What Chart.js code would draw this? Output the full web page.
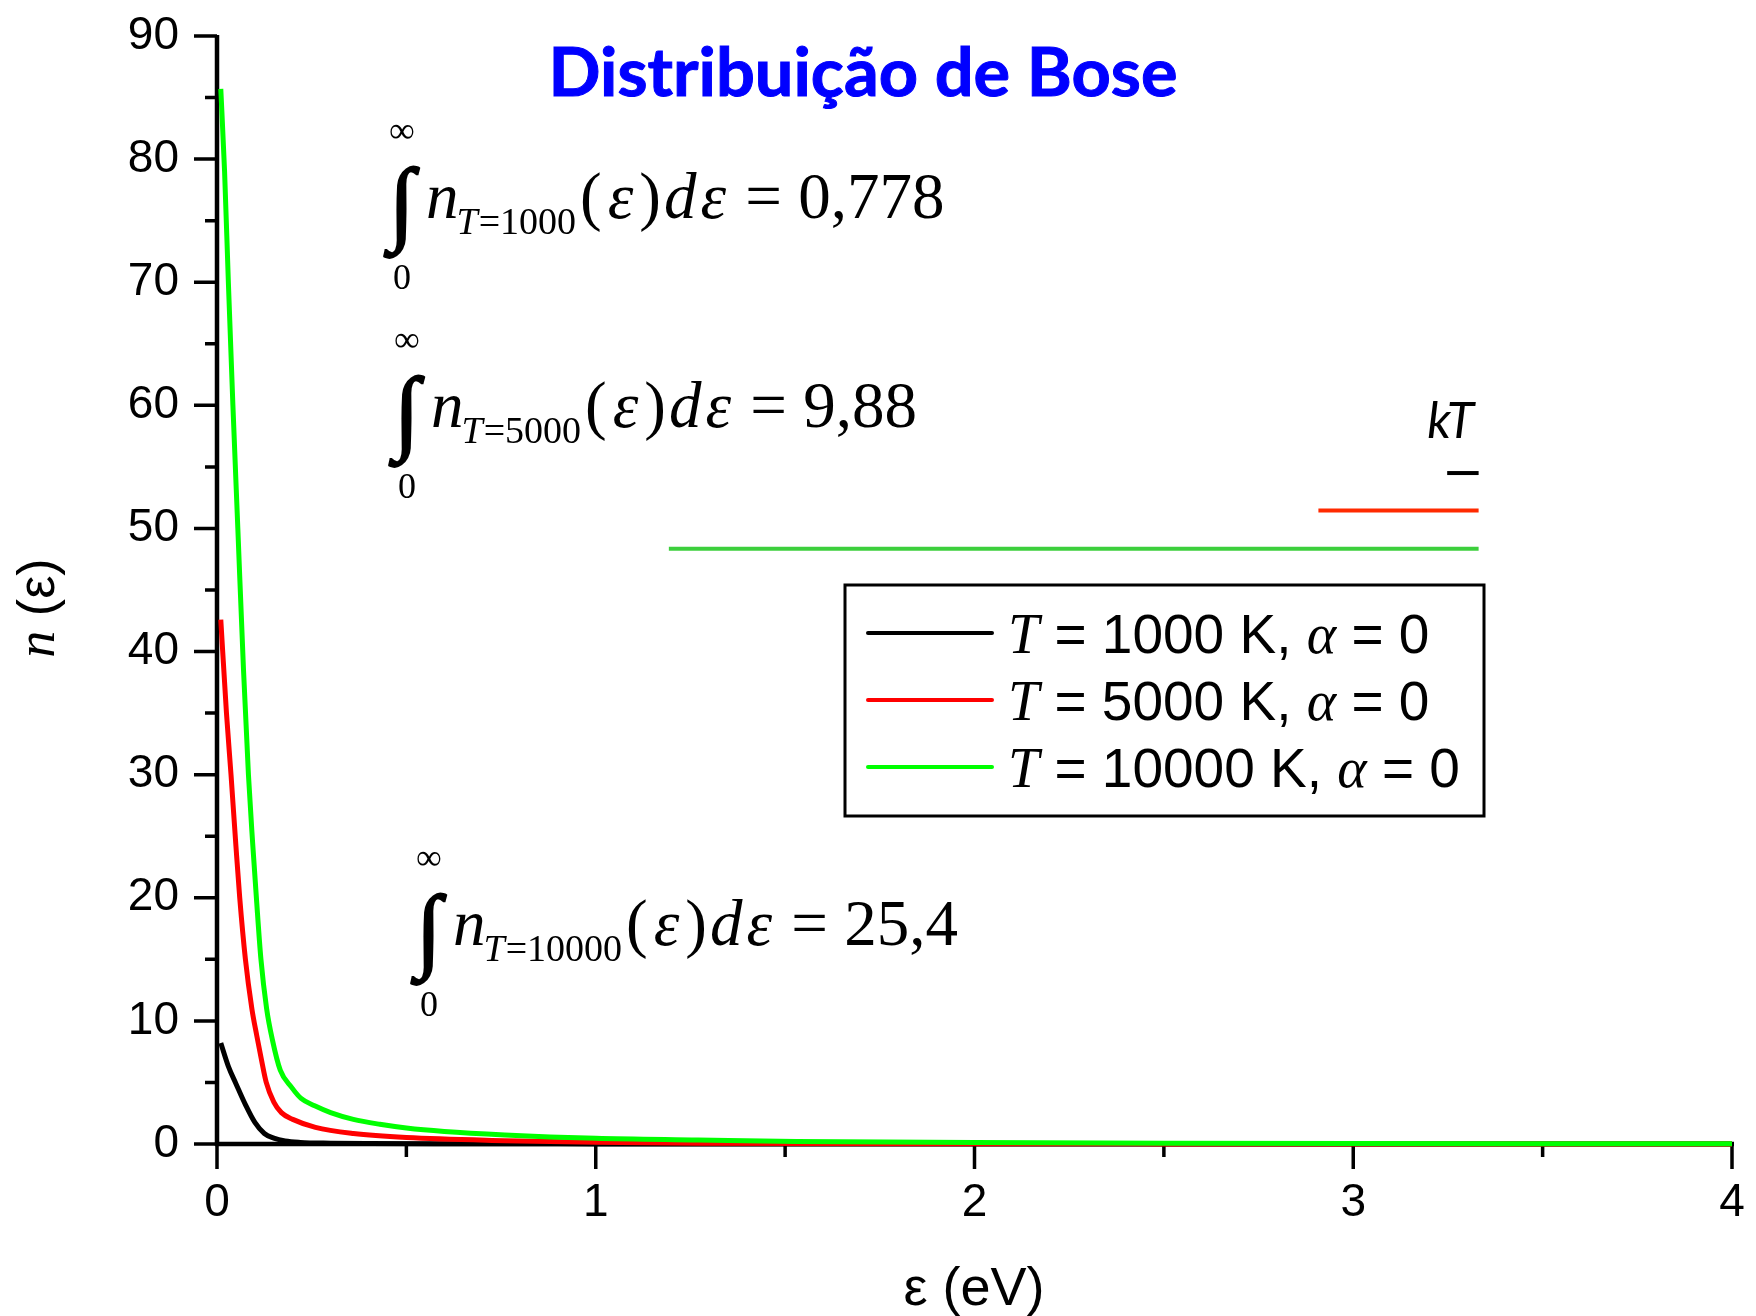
<!DOCTYPE html>
<html>
<head>
<meta charset="utf-8">
<title>Distribuição de Bose</title>
<script src="https://cdn.jsdelivr.net/npm/chart.js@4.4.0/dist/chart.umd.min.js"></script>
<style>
  html, body { margin: 0; padding: 0; background: #ffffff; }
  canvas { display: block; }
</style>
</head>
<body>
<canvas id="chart" width="1756" height="1316"></canvas>
<script>
// Bose–Einstein occupation n(ε) at three temperatures (α = 0)
const temperatures = [1000, 5000, 10000];
const seriesColors = ['#000000', '#ff0000', '#00ff00'];

const energy1000 = [0.01, 0.03, 0.05, 0.075, 0.1, 0.125, 0.15, 0.18, 0.22, 0.3, 0.4, 0.6, 1.0, 2.0, 3.0, 4.0];
const occupancy1000 = [8.2, 6.3, 4.9, 3.2, 1.75, 0.85, 0.47, 0.24, 0.13, 0.07, 0.04, 0.02, 0.01, 0, 0, 0];

const energy5000 = [0.01, 0.025, 0.037, 0.05, 0.06, 0.075, 0.092, 0.105, 0.117, 0.13, 0.15, 0.17, 0.2, 0.26, 0.36, 0.5, 0.76, 1.0, 1.27, 1.6, 2.0, 2.5, 3.0, 3.5, 4.0];
const occupancy5000 = [42.6, 35, 30, 24.2, 20, 15, 11, 8.8, 6.9, 5.0, 3.4, 2.55, 2.0, 1.35, 0.85, 0.52, 0.27, 0.14, 0.07, 0.04, 0.02, 0.01, 0.005, 0.003, 0.002];

const energy10000 = [0.01, 0.02, 0.03, 0.042, 0.055, 0.07, 0.083, 0.094, 0.104, 0.116, 0.131, 0.146, 0.167, 0.197, 0.222, 0.258, 0.3, 0.36, 0.43, 0.5, 0.6, 0.76, 1.0, 1.27, 1.53, 2.0, 2.5, 3.0, 3.5, 4.0];
const occupancy10000 = [85.7, 79, 70, 60, 50, 38.5, 30, 24.5, 20, 15, 11, 8.5, 6.0, 4.6, 3.7, 3.1, 2.55, 2.0, 1.6, 1.3, 1.02, 0.74, 0.47, 0.33, 0.2, 0.12, 0.07, 0.04, 0.025, 0.015];

// Integral of each curve over ε
const integralSubscripts = ['1000', '5000', '10000'];
const integralValues = ['0,778', '9,88', '25,4'];

// kT bars drawn beside the "kT" label
const kTStart = [3.248, 2.908, 1.193];
const kTEnd = [3.331, 3.331, 3.331];
const kTLevel = [54.5, 51.45, 48.35];
const kTColors = ['#000000', '#ff2a00', '#3ccf3c'];

// Axis ticks (empty label = minor tick)
const xTickValues = [0, 0.5, 1, 1.5, 2, 2.5, 3, 3.5, 4];
const xTickLabels = ['0', '', '1', '', '2', '', '3', '', '4'];
const yTickValues = [0, 5, 10, 15, 20, 25, 30, 35, 40, 45, 50, 55, 60, 65, 70, 75, 80, 85, 90];
const yTickLabels = ['0', '', '10', '', '20', '', '30', '', '40', '', '50', '', '60', '', '70', '', '80', '', '90'];

const SANS = '"Liberation Sans", Arial, sans-serif';
const SERIF = '"Liberation Serif", "Times New Roman", serif';

const curveEnergies = [energy1000, energy5000, energy10000];
const curveOccupancies = [occupancy1000, occupancy5000, occupancy10000];

const datasets = temperatures.map((t, i) => ({
  label: `T = ${t} K, α = 0`,
  data: curveEnergies[i].map((e, k) => ({ x: e, y: curveOccupancies[i][k] })),
  borderColor: seriesColors[i],
  borderWidth: 5,
  pointRadius: 0,
  cubicInterpolationMode: 'monotone',
  clip: false,
  order: 3 - i
}));

kTLevel.forEach((lvl, i) => {
  datasets.push({
    label: 'kT ' + temperatures[i],
    data: [{ x: kTStart[i], y: lvl }, { x: kTEnd[i], y: lvl }],
    borderColor: kTColors[i],
    borderWidth: 4,
    pointRadius: 0,
    clip: false,
    order: 4
  });
});

function labelFor(values, labels, v) {
  const idx = values.findIndex(t => Math.abs(t - v) < 1e-9);
  return idx >= 0 ? labels[idx] : '';
}

// keep the plot area fixed: the layout padding alone decides the margins
function fixScaleBox(size, prop) {
  return s => {
    s[prop] = size;
    s.paddingTop = 0; s.paddingBottom = 0; s.paddingLeft = 0; s.paddingRight = 0;
  };
}

// Axis lines with long major and short minor outward ticks
const axisLines = {
  id: 'axisLines',
  beforeDatasetsDraw(chart) {
    const { ctx, chartArea: a, scales: { x, y } } = chart;
    ctx.save();
    ctx.strokeStyle = '#000';
    ctx.lineCap = 'butt';
    ctx.lineWidth = 4.5;
    ctx.beginPath();
    ctx.moveTo(a.left, a.top - 1);
    ctx.lineTo(a.left, a.bottom + 2);
    ctx.moveTo(a.left - 2, a.bottom);
    ctx.lineTo(a.right + 2, a.bottom);
    ctx.stroke();
    ctx.lineWidth = 3.5;
    ctx.beginPath();
    x.ticks.forEach(t => {
      const px = x.getPixelForValue(t.value);
      const len = labelFor(xTickValues, xTickLabels, t.value) ? 25 : 13;
      ctx.moveTo(px, a.bottom);
      ctx.lineTo(px, a.bottom + len);
    });
    y.ticks.forEach(t => {
      const py = y.getPixelForValue(t.value);
      const len = labelFor(yTickValues, yTickLabels, t.value) ? 23 : 12;
      ctx.moveTo(a.left, py);
      ctx.lineTo(a.left - len, py);
    });
    ctx.stroke();
    ctx.restore();
  }
};

// parts: [text, font, extra spacing after]
function drawParts(ctx, x, y, parts) {
  for (const [text, font, gap] of parts) {
    ctx.font = font;
    ctx.fillText(text, x, y);
    x += ctx.measureText(text).width + (gap || 0);
  }
  return x;
}

function partsWidth(ctx, parts) {
  let w = 0;
  for (const [text, font, gap] of parts) { ctx.font = font; w += ctx.measureText(text).width + (gap || 0); }
  return w;
}

function centerGlyph(ctx, text, font, cx, cy) {
  ctx.font = font;
  const m = ctx.measureText(text);
  const w = m.actualBoundingBoxLeft + m.actualBoundingBoxRight;
  const h = m.actualBoundingBoxAscent + m.actualBoundingBoxDescent;
  ctx.fillText(text, cx - w / 2 + m.actualBoundingBoxLeft, cy - h / 2 + m.actualBoundingBoxAscent);
}

function drawIntegral(ctx, x0, b, sub, value) {
  // integral sign spanning b-52 … b+40
  ctx.font = `bold 100px ${SERIF}`;
  let m = ctx.measureText('∫');
  const size = 100 * 92 / (m.actualBoundingBoxAscent + m.actualBoundingBoxDescent);
  ctx.font = `bold ${size}px ${SERIF}`;
  m = ctx.measureText('∫');
  const sw = m.actualBoundingBoxLeft + m.actualBoundingBoxRight;
  const gx = x0 + 22 - sw / 2 + m.actualBoundingBoxLeft;
  const gy = b - 52 + m.actualBoundingBoxAscent;
  ctx.fillText('∫', gx, gy);
  ctx.lineWidth = 2;
  ctx.strokeStyle = '#000';
  ctx.strokeText('∫', gx, gy);
  // limits
  centerGlyph(ctx, '∞', `36px ${SERIF}`, x0 + 22, b - 87);
  centerGlyph(ctx, '0', `36px ${SERIF}`, x0 + 22, b + 59);
  // integrand
  const big = 65, small = 38;
  ctx.font = `italic ${big}px ${SERIF}`;
  const nx = x0 + 46;
  ctx.fillText('n', nx, b);
  const subX = nx + ctx.measureText('n').width - 2;
  const subEnd = drawParts(ctx, subX, b + 16, [
    ['T', `italic ${small}px ${SERIF}`, 1],
    ['=' + sub, `${small}px ${SERIF}`]
  ]);
  drawParts(ctx, subEnd + 4, b, [
    ['(', `${big}px ${SERIF}`, 6],
    ['ε', `italic ${big}px ${SERIF}`, 6],
    [')', `${big}px ${SERIF}`, 3],
    ['d', `italic ${big}px ${SERIF}`, 4],
    ['ε', `italic ${big}px ${SERIF}`, 3],
    [' = ', `${big}px ${SERIF}`, 0],
    [value, `${big}px ${SERIF}`]
  ]);
}

const annotations = {
  id: 'annotations',
  afterDraw(chart) {
    const { ctx } = chart;
    ctx.save();
    ctx.textAlign = 'left';
    ctx.textBaseline = 'alphabetic';

    // title
    const titleText = 'Distribuição de Bose';
    ctx.font = `bold 67px Lato, "Open Sans", sans-serif`;
    const tw = ctx.measureText(titleText).width;
    ctx.save();
    ctx.translate(863, 96);
    ctx.scale(629 / tw, 1);
    ctx.fillStyle = '#0000ff';
    ctx.strokeStyle = '#0000ff';
    ctx.lineWidth = 1;
    ctx.textAlign = 'center';
    ctx.fillText(titleText, 0, 0);
    ctx.strokeText(titleText, 0, 0);
    ctx.restore();

    ctx.fillStyle = '#000';

    // integrals
    const anchors = [[380, 218], [385, 427], [407, 945]];
    anchors.forEach(([x0, b], i) => drawIntegral(ctx, x0, b, integralSubscripts[i], integralValues[i]));

    // kT label
    ctx.font = `italic 50px Lato, "Open Sans", sans-serif`;
    ctx.textAlign = 'right';
    ctx.fillText('kT', 1474, 438);
    ctx.textAlign = 'left';

    // axis titles
    const xTitle = [['ε (eV)', `54px ${SANS}`]];
    const xw = partsWidth(ctx, xTitle);
    drawParts(ctx, 974 - xw / 2, 1305, xTitle);

    const yTitle = [['n', `italic 54px ${SERIF}`], [' (ε)', `52px ${SANS}`]];
    const yw = partsWidth(ctx, yTitle);
    ctx.save();
    ctx.translate(54, 608);
    ctx.rotate(-Math.PI / 2);
    drawParts(ctx, -yw / 2, 0, yTitle);
    ctx.restore();

    // legend
    const box = { left: 845, top: 585, right: 1484, bottom: 816 };
    ctx.fillStyle = '#ffffff';
    ctx.fillRect(box.left, box.top, box.right - box.left, box.bottom - box.top);
    ctx.strokeStyle = '#000';
    ctx.lineWidth = 3;
    ctx.strokeRect(box.left, box.top, box.right - box.left, box.bottom - box.top);
    ctx.fillStyle = '#000';
    temperatures.forEach((t, i) => {
      const ly = 633 + i * 67;
      ctx.strokeStyle = seriesColors[i];
      ctx.lineWidth = 4;
      ctx.lineCap = 'round';
      ctx.beginPath();
      ctx.moveTo(868, ly);
      ctx.lineTo(992, ly);
      ctx.stroke();
      drawParts(ctx, 1008, ly + 20, [
        ['T', `italic 56px ${SERIF}`, 0],
        [` = ${t} K, `, `55px ${SANS}`, 0],
        ['α', `italic 56px ${SERIF}`, 0],
        [' = 0', `55px ${SANS}`]
      ]);
    });
    ctx.restore();
  }
};

new Chart(document.getElementById('chart').getContext('2d'), {
  type: 'line',
  data: { datasets },
  options: {
    responsive: false,
    animation: false,
    layout: { padding: { left: 0, right: 24, top: 36, bottom: 0 } },
    plugins: {
      legend: { display: false },
      tooltip: { enabled: false },
      title: { display: false }
    },
    scales: {
      x: {
        type: 'linear',
        min: 0,
        max: 4,
        grid: { display: false, drawTicks: false },
        border: { display: false },
        afterBuildTicks: s => { s.ticks = xTickValues.map(v => ({ value: v })); },
        afterFit: fixScaleBox(172, 'height'),
        ticks: {
          autoSkip: false,
          maxRotation: 0,
          padding: 32,
          color: '#000',
          font: { family: SANS, size: 46 },
          callback: v => labelFor(xTickValues, xTickLabels, v)
        }
      },
      y: {
        type: 'linear',
        min: 0,
        max: 90,
        grid: { display: false, drawTicks: false },
        border: { display: false },
        afterBuildTicks: s => { s.ticks = yTickValues.map(v => ({ value: v })); },
        afterFit: fixScaleBox(217, 'width'),
        ticks: {
          autoSkip: false,
          padding: 38,
          color: '#000',
          font: { family: SANS, size: 46 },
          callback: v => labelFor(yTickValues, yTickLabels, v)
        }
      }
    }
  },
  plugins: [axisLines, annotations]
});
</script>
</body>
</html>
